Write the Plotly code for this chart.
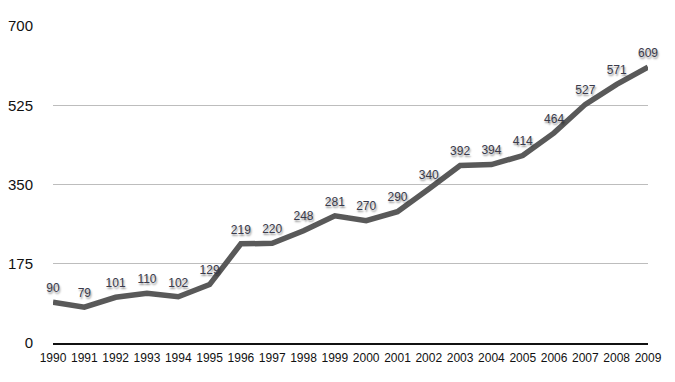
import plotly.graph_objects as go

years = [str(y) for y in range(1990, 2010)]
values = [90, 79, 101, 110, 102, 129, 219, 220, 248, 281, 270, 290, 340, 392, 394, 414, 464, 527, 571, 609]
y_ticks = [0, 175, 350, 525, 700]

fig = go.Figure()
fig.add_trace(go.Scatter(
    x=years, y=values, mode="lines",
    line=dict(color="#595959", width=5.5),
    hoverinfo="skip", showlegend=False, cliponaxis=False,
))
fig.add_trace(go.Scatter(
    x=years, y=values, mode="markers+text",
    marker=dict(size=10, opacity=0),
    text=[str(v) for v in values],
    textposition="top center",
    textfont=dict(family="Liberation Sans, Arial, sans-serif", size=12, color="#3a3a4a",
                  shadow="1px 2px 2px rgba(0,0,0,0.45)"),
    hoverinfo="skip", showlegend=False, cliponaxis=False,
))

fig.update_layout(
    width=659, height=366,
    margin=dict(l=45, r=19, t=18, b=31),
    paper_bgcolor="white", plot_bgcolor="white",
    font=dict(family="Liberation Sans, Arial, sans-serif", color="#111"),
    xaxis=dict(
        type="category", range=[0, 19], showgrid=False, automargin=False,
        showline=True, linecolor="#111", linewidth=2,
        ticks="outside", ticklen=3, tickcolor="rgba(0,0,0,0)",
        tickfont=dict(size=12, color="#111"),
        zeroline=False,
    ),
    yaxis=dict(
        range=[0, 700], tickvals=y_ticks, automargin=False,
        showgrid=True, gridcolor="#bdbdbd", gridwidth=1.2,
        zeroline=False, showline=False,
        ticks="outside", ticklen=16, tickcolor="rgba(0,0,0,0)",
        tickfont=dict(size=15, color="#111"),
    ),
)
fig.write_html("out.html")
